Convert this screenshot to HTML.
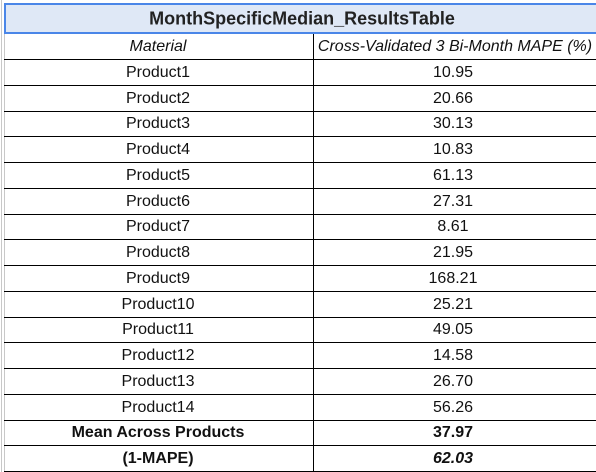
<!DOCTYPE html>
<html><head><meta charset="utf-8"><style>
body{margin:0;width:596px;height:472px;background:#fff;overflow:hidden;font-family:"Liberation Sans",Arial,sans-serif;position:relative}
.a{position:absolute}
.t{position:absolute;white-space:nowrap;transform:translate(-50%,-50%);font-size:16px;color:#111}
.h{position:absolute;background:#000;height:1px}
</style></head><body>
<div class="a" style="left:1px;top:0;width:1px;height:472px;background:#c8c8c8"></div>
<div class="a" style="left:4px;top:3px;width:592px;height:27px;background:#dfe8f6;border-top:2px solid #4a86e8;border-bottom:2px solid #4a86e8;border-left:2px solid #4a86e8;box-sizing:content-box"></div>
<div class="t" style="left:302px;top:19px;font-size:18px;font-weight:bold;color:#222">MonthSpecificMedian_ResultsTable</div>
<div class="a" style="left:313px;top:34px;width:1px;height:438px;background:#000"></div>
<div class="a" style="left:4px;top:34px;width:1px;height:438px;background:#c8c8c8"></div>
<div class="t" style="left:158px;top:47px;font-style:italic">Material</div>
<div class="t" style="left:455px;top:47px;font-style:italic">Cross-Validated 3 Bi-Month MAPE (%)</div>
<div id="rows"></div>
<script>
const materials=["Product1","Product2","Product3","Product4","Product5","Product6","Product7","Product8","Product9","Product10","Product11","Product12","Product13","Product14"];
const mapeValues=["10.95","20.66","30.13","10.83","61.13","27.31","8.61","21.95","168.21","25.21","49.05","14.58","26.70","56.26"];
const summaryLabels=["Mean Across Products","(1-MAPE)"];
const summaryValues=["37.97","62.03"];
const root=document.getElementById('rows');
const top0=59,rh=25.75;
function line(y){const d=document.createElement('div');d.className='h';d.style.left='4px';d.style.width='592px';d.style.top=Math.round(y)+'px';


root.appendChild(d);}
function cell(x,y,txt,name,style){const d=document.createElement('div');d.className='t';d.style.left=x+'px';d.style.top=y+'px';d.textContent=txt;if(style)d.style.cssText+=style;


root.appendChild(d);}
line(top0);
materials.forEach((m,i)=>{const y=top0+rh*i+rh/2+1;cell(158,y,m,'material-cell');cell(453,y,mapeValues[i],'mape-cell');line(top0+rh*(i+1));});
summaryLabels.forEach((m,i)=>{const k=materials.length+i;const y=top0+rh*k+rh/2+1;cell(158,y,m,'summary-label','font-weight:bold');cell(453,y,summaryValues[i],'summary-value','font-weight:bold'+(i==1?';font-style:italic':''));line(top0+rh*(k+1));});
</script>
</body></html>
